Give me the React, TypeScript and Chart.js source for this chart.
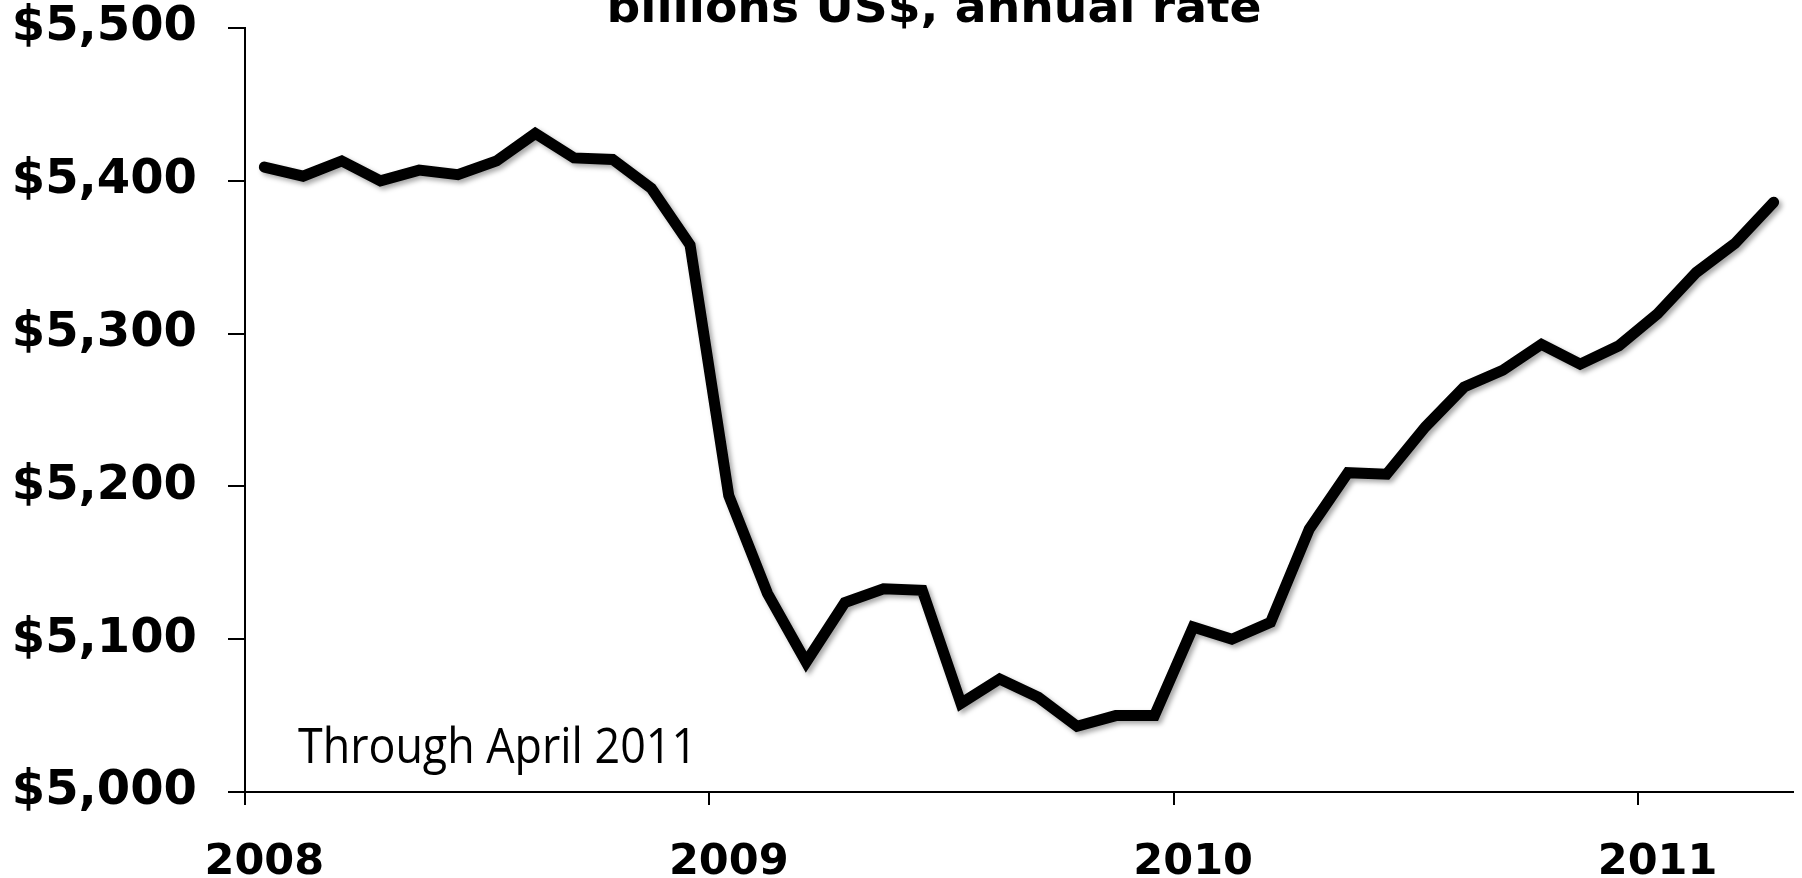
import React, { useEffect, useRef } from "react";
import { Chart, registerables } from "chart.js";

Chart.register(...registerables);

const TITLE = "billions US$, annual rate";
const NOTE = "Through April 2011";
const YEARS = ["2008", "2009", "2010", "2011"];
const MONTHS = ["Jan", "Feb", "Mar", "Apr", "May", "Jun", "Jul", "Aug", "Sep", "Oct", "Nov", "Dec"];
const MONTH_LABELS: string[] = [];
YEARS.forEach((y) => MONTHS.forEach((m) => MONTH_LABELS.push(m + " " + y)));
const CATEGORIES = MONTH_LABELS.slice(0, 40);

const VALUES_2008 = [5409, 5403, 5413, 5400, 5407, 5404, 5413, 5431, 5415, 5414, 5395, 5358];
const VALUES_2009 = [5194, 5130, 5085, 5124, 5133, 5132, 5058, 5074, 5062, 5043, 5050, 5050];
const VALUES_2010 = [5108, 5100, 5111, 5172, 5209, 5208, 5239, 5265, 5276, 5293, 5280, 5292];
const VALUES_2011 = [5313, 5340, 5359, 5386];
const VALUES = [...VALUES_2008, ...VALUES_2009, ...VALUES_2010, ...VALUES_2011];

const Y_MIN = 5000;
const Y_MAX = 5500;
const Y_STEP = 100;

const textPlugin = {
  id: "textPlugin",
  afterDraw(chart: any) {
    const ctx = chart.ctx;
    ctx.save();
    ctx.fillStyle = "#000";
    ctx.font = 'bold 44px "DejaVu Sans"';
    const w = ctx.measureText(TITLE).width;
    ctx.translate(934, 22);
    ctx.scale(655 / w, 1);
    ctx.textAlign = "center";
    ctx.textBaseline = "alphabetic";
    ctx.fillText(TITLE, 0, 0);
    ctx.restore();

    ctx.save();
    ctx.fillStyle = "#000";
    ctx.font = '49px "Open Sans"';
    const nw = ctx.measureText(NOTE).width;
    ctx.translate(298, 763);
    ctx.scale(399 / nw, 1);
    ctx.textAlign = "left";
    ctx.textBaseline = "alphabetic";
    ctx.fillText(NOTE, 0, 0);
    ctx.restore();
  },
};

const shadowPlugin = {
  id: "shadowPlugin",
  beforeDatasetsDraw(chart: any) {
    const c = chart.ctx;
    c.save();
    c.shadowColor = "rgba(0,0,0,0.35)";
    c.shadowBlur = 5;
    c.shadowOffsetX = 3;
    c.shadowOffsetY = 3;
  },
  afterDatasetsDraw(chart: any) {
    chart.ctx.restore();
  },
};

export default function App() {
  const ref = useRef<HTMLCanvasElement | null>(null);

  useEffect(() => {
    if (!ref.current) return;
    const chart = new Chart(ref.current, {
      type: "line",
      data: {
        labels: CATEGORIES,
        datasets: [
          {
            data: VALUES,
            borderColor: "#000",
            borderWidth: 11,
            pointRadius: 0,
            tension: 0,
            borderJoinStyle: "miter",
            borderCapStyle: "round",
            fill: false,
          },
        ],
      },
      options: {
        responsive: false,
        animation: false,
        events: [],
        layout: { padding: { top: 28, right: 9, left: 0, bottom: 0 } },
        plugins: {
          legend: { display: false },
          tooltip: { enabled: false },
          title: { display: false },
        },
        scales: {
          x: {
            type: "category",
            offset: true,
            afterFit: (s: any) => {
              s.height = 86;
              s.paddingLeft = 0;
              s.paddingRight = 0;
            },
            border: { display: true, color: "#000", width: 2 },
            grid: {
              offset: true,
              drawOnChartArea: false,
              drawTicks: true,
              tickLength: 13,
              lineWidth: 2,
              color: "rgba(0,0,0,0)",
              tickColor: (c: any) =>
                c.index !== undefined && c.index % 12 === 0 ? "#000" : "rgba(0,0,0,0)",
            },
            ticks: {
              autoSkip: false,
              maxRotation: 0,
              minRotation: 0,
              padding: 32,
              color: "#000",
              font: { family: "DejaVu Sans", weight: "bold", size: 43 },
              callback: (_v: any, i: number) => (i % 12 === 0 ? YEARS[i / 12] : ""),
            },
          },
          y: {
            min: Y_MIN,
            max: Y_MAX,
            afterFit: (s: any) => {
              s.width = 245;
              s.paddingTop = 0;
              s.paddingBottom = 0;
            },
            border: { display: true, color: "#000", width: 2 },
            grid: {
              drawOnChartArea: false,
              drawTicks: true,
              tickLength: 17,
              lineWidth: 2,
              color: "#000",
              tickColor: "#000",
            },
            ticks: {
              stepSize: Y_STEP,
              padding: 31,
              color: "#000",
              font: { family: "DejaVu Sans", weight: "bold", size: 48 },
              callback: (v: any) => "$" + Number(v).toLocaleString("en-US"),
            },
          },
        },
      },
      plugins: [shadowPlugin, textPlugin],
    } as any);
    return () => chart.destroy();
  }, []);

  return (
    <div style={{ position: "fixed", left: 0, top: 0, width: 1802, height: 878, background: "#fff" }}>
      <canvas ref={ref} width={1802} height={878} style={{ display: "block" }} />
    </div>
  );
}
